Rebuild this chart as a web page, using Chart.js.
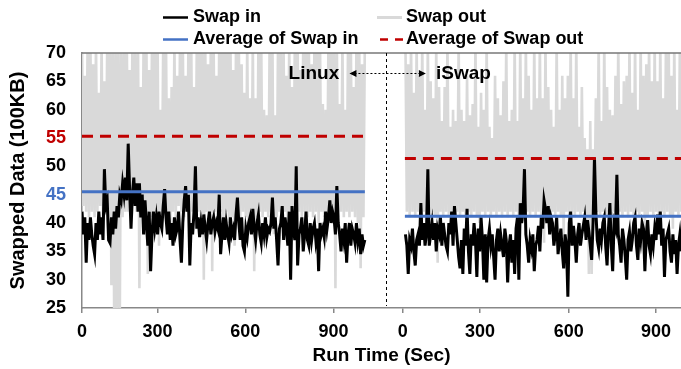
<!DOCTYPE html>
<html>
<head>
<meta charset="utf-8">
<script src="https://cdn.jsdelivr.net/npm/chart.js@4.4.1/dist/chart.umd.min.js"></script>
<style>
  html, body { margin: 0; padding: 0; background: #fff; }
  #wrap { width: 681px; height: 369px; }
</style>
</head>
<body>
<div id="wrap"><canvas id="swapChart" width="681" height="369"></canvas></div>
<script>
// both series sampled every 5 s
const step = 5;
const linuxStart = 0;
const iswapStart = 10;
// iSwap's run is drawn to the right of Linux's on the shared time axis
const iswapOffset = 1145;

const linuxSwapIn = [42, 38, 41, 33, 40, 37, 41, 38, 36, 34.5,
  40, 37, 42, 38, 41, 37, 49.5, 43, 44, 37,
  36.5, 41, 38, 42, 39, 43, 41, 45, 44, 47,
  45, 48, 44, 54, 46, 39, 45, 48, 43, 47,
  42, 47, 41, 45, 38, 44, 40, 36, 42, 31.5,
  38, 42, 39, 41, 38, 42, 40, 39, 43, 46,
  41, 38, 42, 37, 40, 36, 41, 38, 39, 42,
  37, 33, 40, 44, 46.5, 42, 45, 32.5, 40, 38,
  42, 50, 39, 41, 37.5, 40, 38, 41.5, 39, 37,
  40, 42, 38, 40, 41, 38.5, 40, 39, 45, 34.5,
  38, 41, 37, 40, 38, 36.5, 41, 38, 39, 37,
  41.5, 44.5, 40, 37, 41, 36, 35, 39, 37.5, 40,
  41, 38, 42.5, 39, 37, 40, 41.5, 38, 36.5, 40,
  38, 41, 37.5, 39, 38.5, 40, 44.5, 39, 41, 37,
  32.5, 39, 40, 43, 37, 41, 39, 36, 42, 30,
  43, 39, 37, 50, 32.5, 38, 39, 41, 35, 38,
  42, 37, 36, 40, 37, 39, 40, 37, 39, 31.5,
  40, 38, 39, 37.5, 42, 39, 41, 44, 40, 42,
  41, 38, 46.5, 40, 38, 35, 39, 37, 40, 33,
  38, 40, 36, 39, 38, 36.5, 40, 37, 39, 34.5,
  38, 36, 37];

const linuxSwapOut = [72, 43, 66, 42, 72, 41, 72, 42, 68, 41,
  72, 42, 63, 43, 72, 41, 65, 42, 72, 41,
  72, 29, 72, 22, 72, 22, 72, 23, 70, 41,
  72, 42, 72, 42, 67, 41, 72, 43, 70, 42,
  72, 28.5, 64, 41, 72, 42, 72, 31, 67, 41,
  72, 40, 72, 42, 72, 36, 60, 41, 72, 42,
  72, 41, 62, 37.5, 64, 42, 72, 41, 66, 43,
  72, 42, 72, 41, 66, 42, 72, 40, 72, 42,
  64, 41, 72, 42, 72, 41, 72, 30, 72, 42,
  68, 41, 72, 31.5, 72, 42, 66, 41, 72, 42,
  72, 41, 72, 42, 72, 40, 72, 41, 67, 36,
  72, 42, 72, 41, 68, 42, 63, 41, 72, 40,
  62, 42, 72, 31.5, 62, 41, 72, 42, 72, 41,
  60, 42, 59, 41, 72, 42, 72, 38, 59, 41,
  72, 42, 72, 41, 70, 42, 66, 40, 72, 38,
  64, 42, 72, 41, 72, 42, 67, 41, 72, 42,
  72, 41, 72, 42, 68, 41, 72, 42, 72, 40,
  72, 42, 61, 41, 60, 42, 72, 41, 72, 42,
  72, 28.5, 72, 41, 61, 42, 72, 41, 60, 42,
  72, 41, 72, 42, 64, 41, 72, 40, 72, 32,
  68, 41, 72];

const iswapSwapIn = [38, 36, 31, 37, 36, 39, 35, 32.5, 37, 38,
  36, 43.5, 37, 40, 36, 38, 49.5, 36, 38, 40,
  37, 40, 35, 39, 38, 41, 36, 40, 38, 36,
  35, 40, 38, 42, 36, 43, 40, 37, 34, 32,
  37, 31, 39, 36, 42.5, 35, 31, 38, 36, 40,
  37, 30.5, 39, 35, 41, 37, 30, 38, 29.5, 37,
  39, 36, 38, 34, 30, 37, 39, 35, 38, 36,
  34, 39, 37, 29.5, 36, 38, 33, 37, 31, 39,
  41, 30, 43.5, 40, 42, 49.5, 38, 36, 33, 37,
  35.5, 38, 31.5, 36, 37, 39.5, 35, 41, 39, 44,
  42.5, 40, 43, 38, 41, 40, 36, 38, 41, 34.5,
  37, 39, 35, 32, 38, 36, 27, 40, 42, 36,
  39.5, 37, 33, 38, 40, 36, 38, 39.5, 41, 37,
  40.5, 38.5, 36, 33.5, 40, 51.5, 42, 37, 35.5, 39,
  37, 40, 41, 36, 32.5, 39, 43.5, 36, 31.5, 40,
  39, 48.5, 38, 36, 33, 39, 37, 34, 30, 37,
  38.5, 35, 37, 40, 41, 36, 33.5, 39, 37, 40,
  39, 31.5, 38, 40.5, 36, 34.5, 38, 36, 39, 37,
  41.5, 38, 42, 36, 39, 30.5, 37, 38, 39, 35,
  33, 38, 34.5, 37, 31, 36, 38, 35, 36];

const iswapSwapOut = [72, 42, 68, 41, 72, 42, 63, 41, 72, 42,
  66, 41, 72, 42, 60, 41, 72, 40, 65, 42,
  62, 41, 72, 33, 64, 42, 58, 41, 64, 42,
  72, 41, 57, 42, 60, 41, 58, 42, 72, 41,
  60, 42, 58, 41, 66, 42, 59, 41, 61, 42,
  72, 41, 57, 40, 63, 42, 60, 41, 72, 42,
  57, 41, 55, 42, 66, 41, 62, 42, 59, 41,
  65, 42, 72, 41, 58, 42, 60, 41, 72, 42,
  58, 41, 72, 42, 62, 41, 72, 42, 66, 41,
  60, 42, 72, 41, 62, 42, 72, 40, 62, 36.5,
  72, 42, 64, 41, 60, 42, 57, 41, 72, 42,
  60, 41, 66, 38, 62, 42, 66, 41, 72, 42,
  62, 41, 72, 42, 57, 41, 64, 42, 55, 41,
  53, 31, 58, 31, 53, 41, 62, 42, 72, 41,
  58, 42, 72, 41, 64, 42, 60, 41, 59, 42,
  66, 41, 72, 42, 61, 41, 65, 42, 66, 41,
  72, 42, 63, 41, 72, 42, 60, 41, 72, 42,
  66, 38, 68, 41, 72, 42, 65, 41, 72, 42,
  65, 41, 72, 42, 62, 41, 70, 42, 72, 41,
  66, 39, 72, 42, 60, 41, 72, 42, 72];

const avgSwapIn = [45.5, 41.2];   // Linux, iSwap
const avgSwapOut = [55.3, 51.4];  // Linux, iSwap

const tickPos = [0, 270, 583, 898, 1145, 1421, 1738, 2050];
const tickLabels = ['0', '300', '600', '900', '0', '300', '600', '900'];

const FONT = "'Liberation Sans', Arial, sans-serif";
const GRAY = '#d9d9d9';
const BLUE = '#4472c4';
const RED = '#c00000';

function toPoints(values, start, offset) {
  return values.map((v, i) => ({ x: offset + start + i * step, y: v }));
}

function avgLine(value, from, to) {
  return [{ x: from, y: value }, { x: to, y: value }];
}

const base = { pointRadius: 0, tension: 0, fill: false };

const datasets = [
  { ...base, label: 'Swap out', data: toPoints(linuxSwapOut, linuxStart, 0), borderColor: GRAY, borderWidth: 2.6, order: 3 },
  { ...base, label: 'Swap out', data: toPoints(iswapSwapOut, iswapStart, iswapOffset), borderColor: GRAY, borderWidth: 2.6, order: 3 },
  { ...base, label: 'Swap in', data: toPoints(linuxSwapIn, linuxStart, 0), borderColor: '#000', borderWidth: 3, order: 2 },
  { ...base, label: 'Swap in', data: toPoints(iswapSwapIn, iswapStart, iswapOffset), borderColor: '#000', borderWidth: 3, order: 2 },
  { ...base, label: 'Average of Swap in', data: avgLine(avgSwapIn[0], 0, 1010), borderColor: BLUE, borderWidth: 3, order: 1 },
  { ...base, label: 'Average of Swap in', data: avgLine(avgSwapIn[1], iswapOffset + 8, iswapOffset + 1010), borderColor: BLUE, borderWidth: 3, order: 1 },
  { ...base, label: 'Average of Swap out', data: avgLine(avgSwapOut[0], 0, 1010), borderColor: RED, borderWidth: 3, borderDash: [11, 7], order: 0 },
  { ...base, label: 'Average of Swap out', data: avgLine(avgSwapOut[1], iswapOffset + 8, iswapOffset + 1010), borderColor: RED, borderWidth: 3, borderDash: [11, 7], order: 0 },
];

// legend, frame top, divider and the Linux <-> iSwap arrow
const overlay = {
  id: 'overlay',
  afterDatasetsDraw(chart) {
    const { ctx, chartArea: a, scales: { x, y } } = chart;
    ctx.save();
    // top frame line
    ctx.strokeStyle = '#777';
    ctx.lineWidth = 1.5;
    ctx.beginPath();
    ctx.moveTo(a.left, a.top);
    ctx.lineTo(a.right, a.top);
    ctx.stroke();

    // divider between the two runs
    const dx = Math.round(x.getPixelForValue(1085)) + 0.5;
    ctx.strokeStyle = '#000';
    ctx.lineWidth = 1;
    ctx.setLineDash([3, 3]);
    ctx.beginPath();
    ctx.moveTo(dx, a.top);
    ctx.lineTo(dx, a.bottom - 2);
    ctx.stroke();

    // arrow
    const ay = Math.round(y.getPixelForValue(66.5)) + 0.5;
    const x1 = x.getPixelForValue(955);
    const x2 = x.getPixelForValue(1228);
    ctx.setLineDash([2, 2]);
    ctx.beginPath();
    ctx.moveTo(x1 + 5, ay);
    ctx.lineTo(x2 - 5, ay);
    ctx.stroke();
    ctx.setLineDash([]);
    ctx.fillStyle = '#000';
    ctx.beginPath();
    ctx.moveTo(x1, ay); ctx.lineTo(x1 + 7, ay - 3.5); ctx.lineTo(x1 + 7, ay + 3.5); ctx.closePath();
    ctx.moveTo(x2, ay); ctx.lineTo(x2 - 7, ay - 3.5); ctx.lineTo(x2 - 7, ay + 3.5); ctx.closePath();
    ctx.fill();

    ctx.font = 'bold 19px ' + FONT;
    ctx.textAlign = 'center';
    ctx.textBaseline = 'middle';
    ctx.fillText('Linux', x.getPixelForValue(828), ay);
    ctx.fillText('iSwap', x.getPixelForValue(1362), ay);
    ctx.restore();
  },
  afterDraw(chart) {
    const { ctx } = chart;
    const items = [
      { text: 'Swap in', color: '#000', width: 2.5, dash: [], lx: 163, ly: 17 },
      { text: 'Swap out', color: GRAY, width: 3, dash: [], lx: 377, ly: 17 },
      { text: 'Average of Swap in', color: BLUE, width: 2.5, dash: [], lx: 163, ly: 39 },
      { text: 'Average of Swap out', color: RED, width: 2.5, dash: [8, 7], lx: 380, ly: 39 },
    ];
    ctx.save();
    ctx.font = 'bold 18px ' + FONT;
    ctx.textBaseline = 'middle';
    ctx.textAlign = 'left';
    items.forEach((it) => {
      ctx.strokeStyle = it.color;
      ctx.lineWidth = it.width;
      ctx.setLineDash(it.dash);
      ctx.beginPath();
      ctx.moveTo(it.lx, it.ly + 0.5);
      ctx.lineTo(it.lx + (it.dash.length ? 23 : 25), it.ly + 0.5);
      ctx.stroke();
      ctx.fillStyle = '#000';
      ctx.fillText(it.text, it.lx < 300 ? 193 : 406, it.ly);
    });
    ctx.restore();
  },
};

new Chart(document.getElementById('swapChart'), {
  type: 'line',
  data: { datasets },
  plugins: [overlay],
  options: {
    responsive: false,
    animation: false,
    parsing: false,
    normalized: true,
    layout: { padding: { top: 53, left: 0, right: 0, bottom: 0 } },
    plugins: { legend: { display: false }, tooltip: { enabled: false } },
    scales: {
      x: {
        type: 'linear',
        bounds: 'data',
        min: 0,
        max: 2139,
        afterBuildTicks: (scale) => { scale.ticks = tickPos.map((v) => ({ value: v })); },
        afterFit: (scale) => { scale.height = 61; },
        ticks: {
          autoSkip: false,
          maxRotation: 0,
          padding: 8,
          color: '#000',
          font: { family: FONT, size: 18, weight: 'bold' },
          callback: (v, i) => tickLabels[i],
        },
        grid: { drawOnChartArea: false, drawTicks: true, tickLength: 5, color: '#888', lineWidth: 1.5 },
        border: { color: '#888', width: 1.5 },
        title: {
          display: true,
          text: 'Run Time (Sec)',
          color: '#000',
          font: { family: FONT, size: 19, weight: 'bold' },
          padding: { top: 0, bottom: 2 },
        },
      },
      y: {
        min: 25,
        max: 70,
        afterFit: (scale) => { scale.width = 82; },
        ticks: {
          stepSize: 5,
          padding: 16,
          font: { family: FONT, size: 18, weight: 'bold' },
          color: (c) => (c.tick.value === 55 ? RED : c.tick.value === 45 ? BLUE : '#000'),
        },
        grid: { display: false, drawTicks: false },
        border: { color: '#888', width: 1.5 },
        title: {
          display: true,
          text: 'Swapped Data (100KB)',
          color: '#000',
          font: { family: FONT, size: 20, weight: 'bold' },
          padding: { top: 6, bottom: 0 },
        },
      },
    },
  },
});
</script>
</body>
</html>
